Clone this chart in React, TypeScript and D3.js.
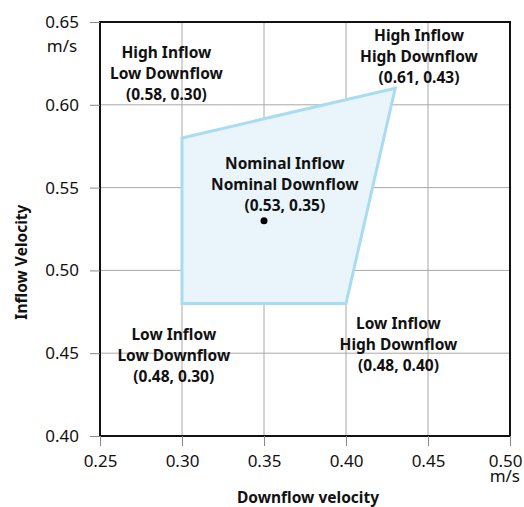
import { useEffect, useRef } from "react";
import * as d3 from "d3";

// corners of the operating envelope: [downflow, inflow]
const envelope: [number, number][] = [
  [0.30, 0.48],
  [0.30, 0.58],
  [0.43, 0.61],
  [0.40, 0.48],
];
const nominal: [number, number] = [0.35, 0.53];

const xTicks = [0.25, 0.30, 0.35, 0.40, 0.45, 0.50];
const yTicks = [0.40, 0.45, 0.50, 0.55, 0.60, 0.65];

// label lines and their anchor in data units [downflow, inflow]
const labels = [
  { at: [0.2905, 0.6280], lines: ["High Inflow", "Low Downflow", "(0.58, 0.30)"] },
  { at: [0.4445, 0.6385], lines: ["High Inflow", "High Downflow", "(0.61, 0.43)"] },
  { at: [0.3627, 0.5612], lines: ["Nominal Inflow", "Nominal Downflow", "(0.53, 0.35)"] },
  { at: [0.2950, 0.4580], lines: ["Low Inflow", "Low Downflow", "(0.48, 0.30)"] },
  { at: [0.4320, 0.4645], lines: ["Low Inflow", "High Downflow", "(0.48, 0.40)"] },
];

const W = 524, H = 507;

const App = () => {
  const ref = useRef<SVGSVGElement>(null);

  useEffect(() => {
    const svg = d3.select(ref.current);
    svg.selectAll("*").remove();

    const margin = { top: 22, left: 100 },
      width = 410,
      height = 414;

    const g = svg.append("g")
      .attr("transform", "translate(" + margin.left + "," + margin.top + ")");

    const x = d3.scaleLinear().domain([0.25, 0.5]).range([0, width]);
    const y = d3.scaleLinear().domain([0.4, 0.65]).range([height, 0]);

    const font = "'Noto Sans', sans-serif";

    // grid
    g.selectAll(".vg").data(xTicks.slice(1, -1)).enter().append("line")
      .attr("x1", d => x(d)).attr("x2", d => x(d))
      .attr("y1", 0).attr("y2", height)
      .attr("stroke", "#a8a8a8").attr("stroke-width", 1);
    g.selectAll(".hg").data(yTicks.slice(1, -1)).enter().append("line")
      .attr("x1", 0).attr("x2", width)
      .attr("y1", d => y(d)).attr("y2", d => y(d))
      .attr("stroke", "#a8a8a8").attr("stroke-width", 1);

    // envelope
    g.append("path")
      .datum(envelope)
      .attr("d", d3.line<[number, number]>().x(d => x(d[0])).y(d => y(d[1])).curve(d3.curveLinearClosed))
      .attr("fill", "#eaf5fb")
      .attr("stroke", "#a9dcf0")
      .attr("stroke-width", 3)
      .attr("stroke-linejoin", "miter");

    // frame
    g.append("rect")
      .attr("width", width).attr("height", height)
      .attr("fill", "none").attr("stroke", "#111").attr("stroke-width", 2);

    // axes
    const xAxis = g.append("g")
      .attr("transform", "translate(0," + height + ")")
      .call(d3.axisBottom(x).tickValues(xTicks).tickFormat(d3.format(".2f")).tickSize(10).tickPadding(9));
    const yAxis = g.append("g")
      .call(d3.axisLeft(y).tickValues(yTicks).tickFormat(d3.format(".2f")).tickSize(10).tickPadding(11));
    [xAxis, yAxis].forEach(a => {
      a.select(".domain").remove();
      a.selectAll(".tick line").attr("stroke", "#888");
      a.selectAll(".tick text").attr("font-family", font).attr("font-size", 17).attr("fill", "#111");
    });
    // last x label sits flush with the page edge
    xAxis.selectAll<SVGTextElement, number>(".tick text")
      .filter(d => d === 0.5)
      .attr("text-anchor", "end").attr("x", 12);

    // units
    g.append("text").attr("x", -38).attr("y", 30)
      .attr("text-anchor", "middle").attr("font-family", font).attr("font-size", 17).attr("fill", "#111")
      .text("m/s");
    g.append("text").attr("x", width + 10).attr("y", height + 46)
      .attr("text-anchor", "end").attr("font-family", font).attr("font-size", 17).attr("fill", "#111")
      .text("m/s");

    // axis titles
    g.append("text").attr("x", 208).attr("y", height + 67)
      .attr("text-anchor", "middle").attr("font-family", font).attr("font-size", 15.5)
      .attr("font-weight", "bold").attr("fill", "#111")
      .text("Downflow velocity");
    g.append("text")
      .attr("transform", "translate(-73," + (y(0.505)) + ") rotate(-90)")
      .attr("text-anchor", "middle").attr("font-family", font).attr("font-size", 15.5)
      .attr("font-weight", "bold").attr("fill", "#111")
      .text("Inflow Velocity");

    // nominal point
    g.append("circle")
      .attr("cx", x(nominal[0])).attr("cy", y(nominal[1]))
      .attr("r", 3.5).attr("fill", "#000");

    // corner labels
    labels.forEach(l => {
      const t = g.append("text")
        .attr("text-anchor", "middle").attr("font-family", font).attr("font-size", 15.5)
        .attr("font-weight", "bold").attr("fill", "#111");
      l.lines.forEach((s, i) => {
        t.append("tspan")
          .attr("x", x(l.at[0]))
          .attr("y", y(l.at[1]) + i * 21)
          .text(s);
      });
    });
  }, []);

  return (
    <svg ref={ref} width={W} height={H}
      style={{ position: "absolute", left: 0, top: 0, display: "block" }} />
  );
};

export default App;
